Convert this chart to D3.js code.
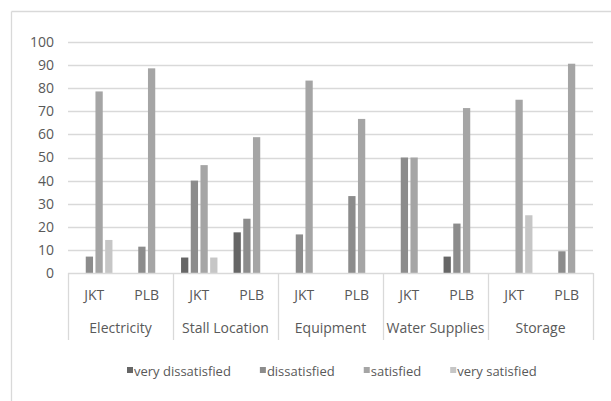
<!DOCTYPE html>
<html>
<head>
<meta charset="utf-8">
<script src="https://cdn.jsdelivr.net/npm/d3@7"></script>
<style>
  html, body { margin: 0; padding: 0; background: #fff; }
  svg { display: block; }
  text { font-family: "Open Sans", sans-serif; fill: #595959; }
</style>
</head>
<body>
<svg id="chart" width="611" height="401"></svg>
<script>
// Satisfaction survey by facility and market (percent of respondents)
const groups = ["Electricity", "Stall Location", "Equipment", "Water Supplies", "Storage"];
const markets = ["JKT", "PLB"];
const seriesNames = ["very dissatisfied", "dissatisfied", "satisfied", "very satisfied"];

// one value per group/market pair, in order: Electricity JKT, Electricity PLB, ...
const veryDissatisfied = [0, 0, 6.7, 17.6, 0, 0, 0, 7.1, 0, 0];
const dissatisfied     = [7.1, 11.4, 40, 23.5, 16.7, 33.3, 50, 21.4, 0, 9.4];
const satisfied        = [78.6, 88.6, 46.7, 58.8, 83.3, 66.7, 50, 71.4, 75, 90.6];
const verySatisfied    = [14.3, 0, 6.7, 0, 0, 0, 0, 0, 25, 0];

const yTicks = [0, 10, 20, 30, 40, 50, 60, 70, 80, 90, 100];

const seriesValues = [veryDissatisfied, dissatisfied, satisfied, verySatisfied];
const colors = ["#666666", "#8c8c8c", "#a5a5a5", "#c6c6c6"];

const categories = [];
groups.forEach(g => markets.forEach(m => categories.push(g + "|" + m)));

const svg = d3.select("#chart");

// outer chart frame (top and left edges visible)
svg.append("line").attr("x1", 11.5).attr("x2", 611).attr("y1", 11.5).attr("y2", 11.5)
  .attr("stroke", "#d9d9d9").attr("stroke-width", 1.3);
svg.append("line").attr("x1", 11.5).attr("x2", 11.5).attr("y1", 11.5).attr("y2", 401)
  .attr("stroke", "#d9d9d9").attr("stroke-width", 1.3);

const plot = { left: 68, right: 593, top: 42, bottom: 273 };

const x = d3.scaleBand().domain(categories).range([plot.left, plot.right]).padding(0);
const xGroup = d3.scaleBand().domain(groups).range([plot.left, plot.right]).padding(0);
const xInner = d3.scaleBand().domain(seriesNames)
  .range([-18.2, 18.2]).paddingInner(0.25).paddingOuter(0);
const y = d3.scaleLinear().domain([0, 100]).range([plot.bottom, plot.top]);

// gridlines
svg.append("g").selectAll("line").data(yTicks.filter(t => t > 0)).join("line")
  .attr("x1", plot.left).attr("x2", plot.right)
  .attr("y1", d => Math.round(y(d)) + 0.5).attr("y2", d => Math.round(y(d)) + 0.5)
  .attr("stroke", "#d9d9d9").attr("stroke-width", 1.3);

// y axis labels
const yAxis = d3.axisLeft(y).tickValues(yTicks).tickSize(0).tickPadding(0);
const yg = svg.append("g").attr("transform", `translate(${54},0)`).call(yAxis);
yg.select(".domain").remove();
yg.selectAll("text").attr("font-size", 14).attr("font-family", "Open Sans, sans-serif")
  .attr("fill", "#595959");

// bars
const barData = [];
seriesValues.forEach((vals, si) => {
  vals.forEach((v, ci) => {
    if (v > 0) barData.push({ series: seriesNames[si], cat: categories[ci], value: v, color: colors[si] });
  });
});
svg.append("g").selectAll("rect").data(barData).join("rect")
  .attr("x", d => x(d.cat) + x.bandwidth() / 2 + xInner(d.series))
  .attr("width", xInner.bandwidth())
  .attr("y", d => y(d.value))
  .attr("height", d => y(0) - y(d.value))
  .attr("fill", d => d.color);

// category axis: baseline and group separators
svg.append("line").attr("x1", plot.left).attr("x2", plot.right)
  .attr("y1", y(0) + 0.5).attr("y2", y(0) + 0.5)
  .attr("stroke", "#d9d9d9").attr("stroke-width", 1.3);
const seps = groups.map(g => xGroup(g)).concat([plot.right]);
svg.append("g").selectAll("line").data(seps).join("line")
  .attr("x1", d => d + 0.5).attr("x2", d => d + 0.5)
  .attr("y1", y(0)).attr("y2", 340)
  .attr("stroke", "#d9d9d9").attr("stroke-width", 1.3);

// market labels
svg.append("g").selectAll("text").data(categories).join("text")
  .attr("x", d => x(d) + x.bandwidth() / 2)
  .attr("y", 300)
  .attr("text-anchor", "middle")
  .attr("font-size", 14)
  .text(d => d.split("|")[1]);

// group labels
svg.append("g").selectAll("text").data(groups).join("text")
  .attr("x", d => xGroup(d) + xGroup.bandwidth() / 2)
  .attr("y", 333)
  .attr("text-anchor", "middle")
  .attr("font-size", 14)
  .text(d => d);

// legend
const legend = svg.append("g");
let cursor = 0;
const gap = 29;
seriesNames.forEach((name, i) => {
  const g = legend.append("g");
  g.append("rect").attr("x", 0).attr("y", -4).attr("width", 6).attr("height", 6).attr("fill", colors[i]);
  const t = g.append("text").attr("x", 7).attr("y", 5).attr("font-size", 13).text(name);
  const w = 7 + t.node().getComputedTextLength();
  g.attr("transform", `translate(${cursor},0)`);
  cursor += w + gap;
});
const totalW = cursor - gap;
legend.attr("transform", `translate(${Math.round(332 - totalW / 2)},371)`);
</script>
</body>
</html>
